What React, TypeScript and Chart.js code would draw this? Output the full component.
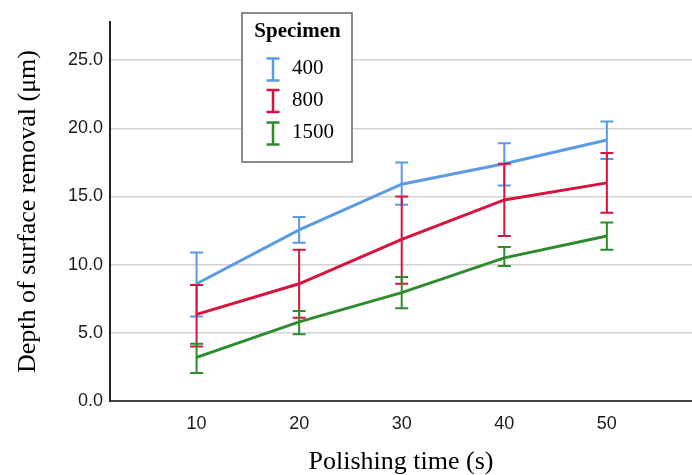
import React, { useEffect, useRef } from "react";
import { Chart, registerables } from "chart.js";
Chart.register(...registerables);

const times = [10, 20, 30, 40, 50];
const yTickValues = [0, 5, 10, 15, 20, 25];
const seriesNames = ["400", "800", "1500"];
const mean400 = [8.6, 12.55, 15.9, 17.4, 19.15];
const low400 = [6.2, 11.6, 14.4, 15.8, 17.75];
const high400 = [10.9, 13.5, 17.5, 18.9, 20.5];
const mean800 = [6.35, 8.6, 11.85, 14.75, 16.0];
const low800 = [4.0, 6.1, 8.6, 12.1, 13.8];
const high800 = [8.5, 11.1, 15.0, 17.4, 18.2];
const mean1500 = [3.2, 5.8, 7.95, 10.5, 12.1];
const low1500 = [2.05, 4.9, 6.8, 9.9, 11.1];
const high1500 = [4.2, 6.6, 9.1, 11.3, 13.1];
const colors = ["#5b9be6", "#d6143f", "#2e8b2e"];
const legendTitle = "Specimen";
const xTitle = "Polishing time (s)";
const yTitle = "Depth of surface removal (\u03bcm)";

const means = [mean400, mean800, mean1500];
const lows = [low400, low800, low1500];
const highs = [high400, high800, high1500];

const errorBarPlugin = {
  id: "errorBars",
  afterDatasetsDraw(chart: any) {
    const ctx = chart.ctx;
    const xs = chart.scales.x;
    const ys = chart.scales.y;
    ctx.save();
    means.forEach((_, si) => {
      ctx.strokeStyle = colors[si];
      ctx.lineWidth = 2;
      times.forEach((t, i) => {
        const px = xs.getPixelForValue(t);
        const pl = ys.getPixelForValue(lows[si][i]);
        const ph = ys.getPixelForValue(highs[si][i]);
        ctx.beginPath();
        ctx.moveTo(px, pl);
        ctx.lineTo(px, ph);
        ctx.moveTo(px - 6.5, pl);
        ctx.lineTo(px + 6.5, pl);
        ctx.moveTo(px - 6.5, ph);
        ctx.lineTo(px + 6.5, ph);
        ctx.stroke();
      });
    });
    ctx.restore();
  },
};

const legendPlugin = {
  id: "boxLegend",
  afterDraw(chart: any) {
    const ctx = chart.ctx;
    ctx.save();
    const bx = 242, by = 13, bw = 110, bh = 149;
    ctx.fillStyle = "#ffffff";
    ctx.fillRect(bx, by, bw, bh);
    ctx.strokeStyle = "#666";
    ctx.lineWidth = 1.5;
    ctx.strokeRect(bx, by, bw, bh);
    ctx.fillStyle = "#000";
    ctx.font = "bold 21px 'Liberation Serif', serif";
    ctx.textAlign = "center";
    ctx.textBaseline = "middle";
    ctx.fillText(legendTitle, 297.5, 32);
    const rowY = [68, 100, 132];
    const iconY = [69.5, 101, 133.5];
    seriesNames.forEach((name, i) => {
      const cy = iconY[i];
      ctx.strokeStyle = colors[i];
      ctx.lineWidth = 2.5;
      ctx.beginPath();
      ctx.moveTo(273, cy - 11);
      ctx.lineTo(273, cy + 11);
      ctx.moveTo(266.5, cy - 11);
      ctx.lineTo(279.5, cy - 11);
      ctx.moveTo(266.5, cy + 11);
      ctx.lineTo(279.5, cy + 11);
      ctx.stroke();
      ctx.fillStyle = "#000";
      ctx.font = "21px 'Liberation Serif', serif";
      ctx.textAlign = "left";
      ctx.fillText(name, 292, rowY[i]);
    });
    ctx.restore();
  },
};

export default function App() {
  const ref = useRef<HTMLCanvasElement>(null);
  useEffect(() => {
    if (!ref.current) return;
    const chart = new Chart(ref.current, {
      type: "line",
      data: {
        datasets: seriesNames.map((name, si) => ({
          label: name,
          data: times.map((t, i) => ({ x: t, y: means[si][i] })),
          borderColor: colors[si],
          backgroundColor: colors[si],
          borderWidth: 3,
          pointRadius: 0,
          tension: 0,
        })),
      },
      options: {
        animation: false,
        responsive: false,
        devicePixelRatio: 1,
        layout: { padding: { top: 22, right: 0, left: 0, bottom: 0 } },
        plugins: { legend: { display: false }, tooltip: { enabled: false } },
        scales: {
          x: {
            type: "linear",
            min: 1.56,
            max: 58.3,
            afterBuildTicks: (s: any) => {
              s.ticks = times.map((v) => ({ value: v }));
            },
            afterFit: (s: any) => {
              s.height = 74;
            },
            grid: { display: false, drawTicks: false },
            border: { display: true, color: "#444", width: 2 },
            ticks: {
              padding: 12,
              color: "#1a1a1a",
              font: { family: "'Liberation Sans', Arial, sans-serif", size: 18 },
              maxRotation: 0,
              autoSkip: false,
              callback: (v: any) => String(v),
            },
            title: {
              display: true,
              text: xTitle,
              color: "#000",
              font: { family: "'Liberation Serif', serif", size: 26, lineHeight: 1 },
              padding: { top: 0, bottom: 0 },
            },
          },
          y: {
            type: "linear",
            min: 0,
            max: 27.8,
            afterBuildTicks: (s: any) => {
              s.ticks = yTickValues.map((v) => ({ value: v }));
            },
            afterFit: (s: any) => {
              s.width = 110;
            },
            grid: {
              color: (c: any) => (c.tick && c.tick.value === 0 ? "rgba(0,0,0,0)" : "#d2d2d2"),
              lineWidth: 1.5,
              drawTicks: false,
            },
            border: { display: true, color: "#222", width: 2 },
            ticks: {
              padding: 7,
              color: "#1a1a1a",
              font: { family: "'Liberation Sans', Arial, sans-serif", size: 18 },
              callback: (v: any) => Number(v).toFixed(1),
            },
            title: {
              display: true,
              text: yTitle,
              color: "#000",
              font: { family: "'Liberation Serif', serif", size: 26, lineHeight: 1.1 },
              padding: { top: 14, bottom: 0 },
            },
          },
        },
      },
      plugins: [errorBarPlugin, legendPlugin],
    } as any);
    return () => chart.destroy();
  }, []);
  return (
    <div style={{ position: "fixed", left: 0, top: 0, width: 692, height: 475, background: "#fff" }}>
      <canvas ref={ref} width={692} height={475} style={{ display: "block" }} />
    </div>
  );
}
